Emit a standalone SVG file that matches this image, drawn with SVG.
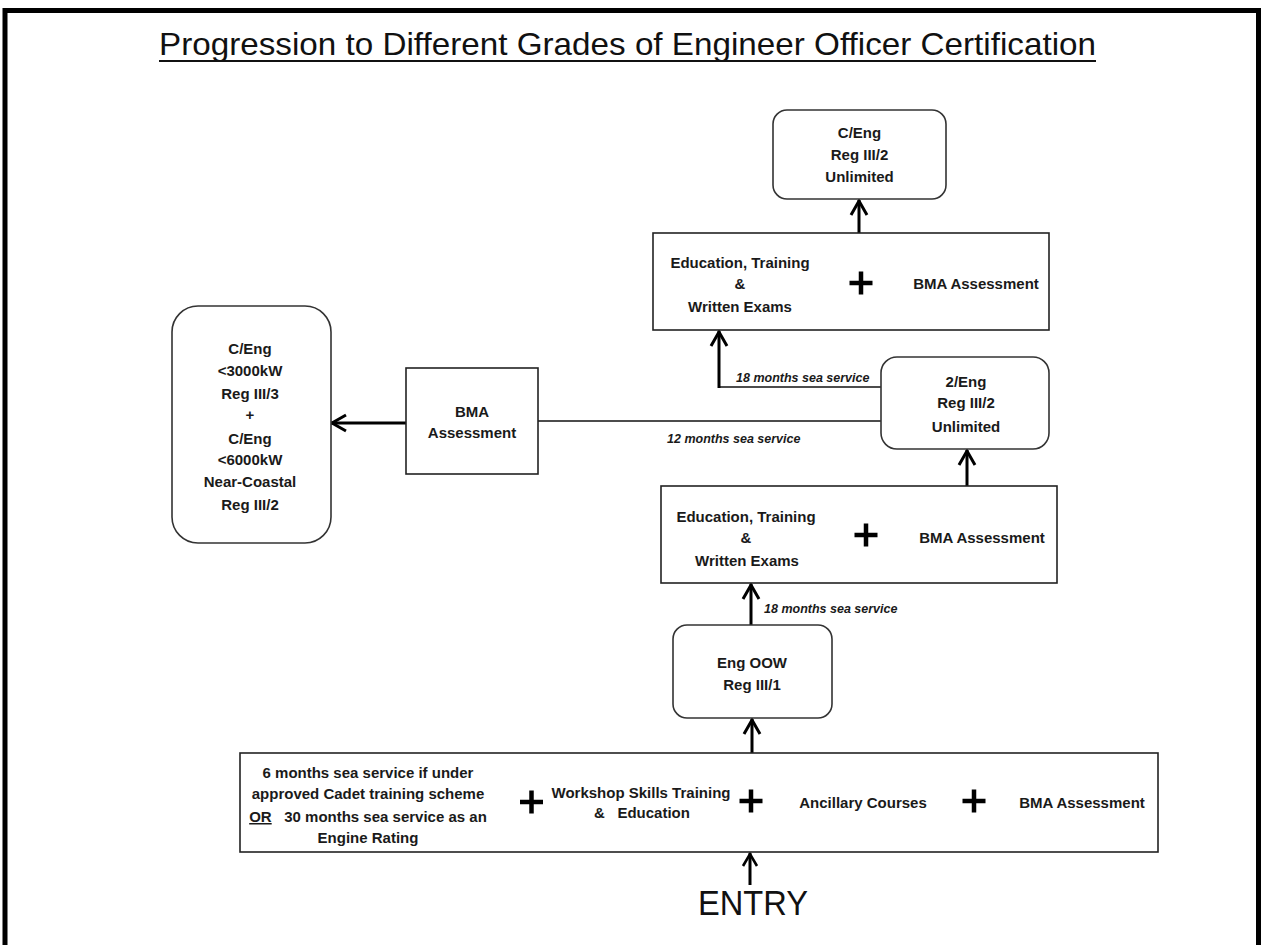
<svg xmlns="http://www.w3.org/2000/svg" width="1262" height="945" viewBox="0 0 1262 945">
<style>
.t{font-family:"Liberation Sans",Arial,sans-serif;font-weight:bold;font-size:15px;fill:#1a1a1a;text-anchor:middle;white-space:pre}
.lbl{font-family:"Liberation Sans",Arial,sans-serif;font-weight:bold;font-style:italic;font-size:12.5px;fill:#1a1a1a;white-space:pre}
.rr{fill:#fff;stroke:#333;stroke-width:1.6}
.bx{fill:#fff;stroke:#222;stroke-width:1.6}
.plus{stroke:#000;stroke-width:4.5;fill:none}
.thick{stroke:#000;stroke-width:3;fill:none}
.thin{stroke:#111;stroke-width:1.6;fill:none}
</style>
<defs>
<marker id="arr" markerWidth="20" markerHeight="20" viewBox="-18 -10 20 20" refX="0" refY="0" orient="auto" markerUnits="userSpaceOnUse">
<path d="M-15,-8 L-1,0 L-15,8" fill="none" stroke="#000" stroke-width="3"/>
</marker>
<marker id="arrs" markerWidth="20" markerHeight="20" viewBox="-18 -10 20 20" refX="0" refY="0" orient="auto" markerUnits="userSpaceOnUse">
<path d="M-13,-7 L-1,0 L-13,7" fill="none" stroke="#000" stroke-width="2.6"/>
</marker>
</defs>
<rect width="1262" height="945" fill="#fff"/>
<path d="M5,945 V10.5 H1258.5 V945" fill="none" stroke="#000" stroke-width="5"/>
<g id="title">
<text x="159" y="55" font-family="Liberation Sans,Arial,sans-serif" font-size="32" fill="#111" textLength="937" lengthAdjust="spacingAndGlyphs">Progression to Different Grades of Engineer Officer Certification</text>
<line x1="159" y1="61" x2="1096" y2="61" stroke="#111" stroke-width="2"/>
</g>
<g id="connectors">
<line class="thick" x1="752" y1="753" x2="752" y2="719" marker-end="url(#arr)"/>
<line class="thick" x1="750" y1="885" x2="750" y2="853" stroke-width="2.4" marker-end="url(#arrs)"/>
<line class="thick" x1="751" y1="625" x2="751" y2="584" marker-end="url(#arr)"/>
<line class="thick" x1="967" y1="486" x2="967" y2="450" marker-end="url(#arr)"/>
<polyline class="thin" points="881,387 719,387"/>
<line class="thick" x1="719" y1="388" x2="719" y2="331" marker-end="url(#arr)"/>
<line class="thin" x1="881" y1="421" x2="538" y2="421"/>
<line class="thick" x1="406" y1="423" x2="331" y2="423" marker-end="url(#arr)"/>
<line class="thick" x1="859" y1="233" x2="859" y2="200" marker-end="url(#arr)"/>
<text class="lbl" x="736" y="382">18 months sea service</text>
<text class="lbl" x="667" y="443">12 months sea service</text>
<text class="lbl" x="764" y="613">18 months sea service</text>
</g>
<g id="node-ceng-unlimited">
<rect class="rr" x="773" y="110" width="173" height="89" rx="14"/>
<text class="t" x="859.5" y="138">C/Eng</text>
<text class="t" x="859.5" y="160">Reg III/2</text>
<text class="t" x="859.5" y="182">Unlimited</text>
</g>
<g id="node-top-requirements">
<rect class="bx" x="653" y="233" width="396" height="97"/>
<text class="t" x="740" y="268">Education, Training</text>
<text class="t" x="740" y="289">&amp;</text>
<text class="t" x="740" y="312">Written Exams</text>
<path class="plus" d="M849.5,283 H872.5 M861,271.5 V294.5"/>
<text class="t" x="976" y="289">BMA Assessment</text>
</g>
<g id="node-2eng">
<rect class="rr" x="881" y="357" width="168" height="92" rx="16"/>
<text class="t" x="966" y="387">2/Eng</text>
<text class="t" x="966" y="408">Reg III/2</text>
<text class="t" x="966" y="432">Unlimited</text>
</g>
<g id="node-ceng-limited">
<rect class="rr" x="172" y="306" width="159" height="237" rx="26"/>
<text class="t" x="250" y="354">C/Eng</text>
<text class="t" x="250" y="376">&lt;3000kW</text>
<text class="t" x="250" y="399">Reg III/3</text>
<text class="t" x="250" y="420">+</text>
<text class="t" x="250" y="444">C/Eng</text>
<text class="t" x="250" y="465">&lt;6000kW</text>
<text class="t" x="250" y="487">Near-Coastal</text>
<text class="t" x="250" y="510">Reg III/2</text>
</g>
<g id="node-bma">
<rect class="bx" x="406" y="368" width="132" height="106"/>
<text class="t" x="472" y="417">BMA</text>
<text class="t" x="472" y="438">Assessment</text>
</g>
<g id="node-middle-requirements">
<rect class="bx" x="661" y="486" width="396" height="97"/>
<text class="t" x="746" y="522">Education, Training</text>
<text class="t" x="746" y="543">&amp;</text>
<text class="t" x="747" y="566">Written Exams</text>
<path class="plus" d="M854.5,535 H877.5 M866,523.5 V546.5"/>
<text class="t" x="982" y="543">BMA Assessment</text>
</g>
<g id="node-eng-oow">
<rect class="rr" x="673" y="625" width="159" height="93" rx="14"/>
<text class="t" x="752" y="668">Eng OOW</text>
<text class="t" x="752" y="690">Reg III/1</text>
</g>
<g id="node-entry-requirements">
<rect class="bx" x="240" y="753" width="918" height="99"/>
<text class="t" x="368" y="778">6 months sea service if under</text>
<text class="t" x="368" y="799">approved Cadet training scheme</text>
<text class="t" x="368" y="822"><tspan text-decoration="underline">OR</tspan>   30 months sea service as an</text>
<text class="t" x="368" y="843">Engine Rating</text>
<path class="plus" d="M520,802 H543 M531.5,790.5 V813.5"/>
<text class="t" x="641" y="798">Workshop Skills Training</text>
<text class="t" x="642" y="818">&amp;   Education</text>
<path class="plus" d="M739.5,801 H762.5 M751,789.5 V812.5"/>
<text class="t" x="863" y="808">Ancillary Courses</text>
<path class="plus" d="M962.5,801 H985.5 M974,789.5 V812.5"/>
<text class="t" x="1082" y="808">BMA Assessment</text>
</g>
<g id="node-entry">
<text x="753" y="915" font-family="Liberation Sans,Arial,sans-serif" font-size="35" fill="#111" text-anchor="middle" textLength="110" lengthAdjust="spacingAndGlyphs">ENTRY</text>
</g>
</svg>
